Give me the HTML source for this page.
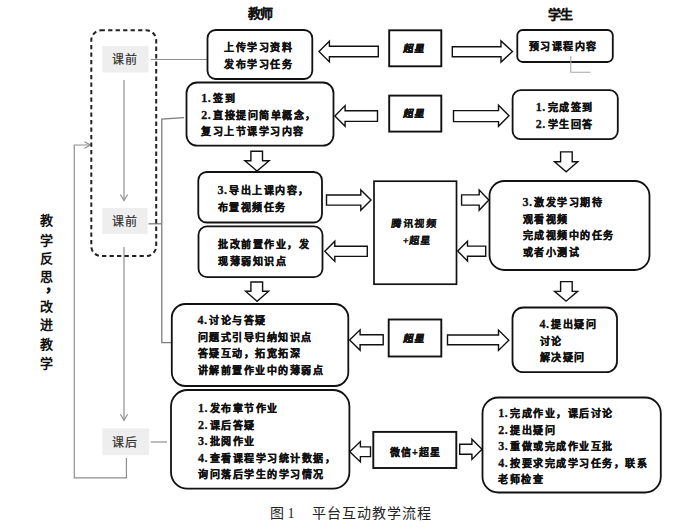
<!DOCTYPE html>
<html lang="zh-CN"><head><meta charset="utf-8"><style>
html,body{margin:0;padding:0;background:#fff;}
#c{position:relative;width:695px;height:529px;overflow:hidden;background:#fff;font-family:"Liberation Sans",sans-serif;}
svg{position:absolute;left:0;top:0;}
</style></head><body><div id="c">
<svg width="695" height="529" viewBox="0 0 695 529">
<polyline points="151,59.5 207,59.5" fill="none" stroke="#8f8f8f" stroke-width="1.2"/>
<polyline points="124,80 124,200.5" fill="none" stroke="#8f8f8f" stroke-width="1.2"/>
<polyline points="120.4,194.5 124,200.5 127.6,194.5" fill="none" stroke="#8f8f8f" stroke-width="1.2"/>
<polyline points="184,117.6 161.8,119.2 161.8,342.7 171.5,342.7" fill="none" stroke="#7c7c7c" stroke-width="1.3"/>
<polyline points="148.5,223.8 161.8,223.8" fill="none" stroke="#7c7c7c" stroke-width="1.3"/>
<polyline points="124,247 124,420.3" fill="none" stroke="#8f8f8f" stroke-width="1.2"/>
<polyline points="120.4,414.3 124,420.3 127.6,414.3" fill="none" stroke="#8f8f8f" stroke-width="1.2"/>
<polyline points="150.8,442 167,442" fill="none" stroke="#8f8f8f" stroke-width="1.2"/>
<polyline points="126.4,458 126.4,477.9 74.3,477.9 74.3,145 90.5,145" fill="none" stroke="#8f8f8f" stroke-width="1.2"/>
<polyline points="84.5,141.7 90.5,145 84.5,148.3" fill="none" stroke="#8f8f8f" stroke-width="1.2"/>
<rect x="91.3" y="30.3" width="64.9" height="225.8" rx="10" ry="10" fill="none" stroke="#222" stroke-width="2" stroke-dasharray="4.3,3.2" stroke-dashoffset="0.7"/>
<rect x="102.5" y="46" width="46.0" height="26.5" fill="#eeeeee"/>
<rect x="102.5" y="208" width="45.1" height="26" fill="#eeeeee"/>
<rect x="102.5" y="428.5" width="46.6" height="26.7" fill="#eeeeee"/>
<rect x="207.5" y="30" width="104.8" height="49" rx="8.17" ry="8.17" fill="#fff" stroke="#111" stroke-width="1.8"/>
<rect x="186.5" y="82.5" width="147.0" height="63.1" rx="10.52" ry="10.52" fill="#fff" stroke="#111" stroke-width="1.8"/>
<rect x="198.3" y="172" width="123.7" height="50.5" rx="8.42" ry="8.42" fill="#fff" stroke="#111" stroke-width="1.8"/>
<rect x="198.5" y="226.3" width="124.0" height="50.9" rx="8.48" ry="8.48" fill="#fff" stroke="#111" stroke-width="1.8"/>
<rect x="171.8" y="304" width="176.5" height="82" rx="13.67" ry="13.67" fill="#fff" stroke="#111" stroke-width="1.8"/>
<rect x="171" y="390" width="178.4" height="98.7" rx="16.45" ry="16.45" fill="#fff" stroke="#111" stroke-width="1.8"/>
<rect x="517.3" y="30" width="95.5" height="32" rx="5.33" ry="5.33" fill="#fff" stroke="#111" stroke-width="1.8"/>
<polyline points="570.8,56 570.8,72.2 590.5,72.2" fill="none" stroke="#a8a8a8" stroke-width="1.1"/>
<rect x="512.6" y="90.2" width="105.2" height="49.0" rx="8.17" ry="8.17" fill="#fff" stroke="#111" stroke-width="1.8"/>
<rect x="489.5" y="181" width="160.0" height="89" rx="14.83" ry="14.83" fill="#fff" stroke="#111" stroke-width="1.8"/>
<rect x="512.5" y="307.5" width="104.5" height="64.7" rx="10.78" ry="10.78" fill="#fff" stroke="#111" stroke-width="1.8"/>
<rect x="482.5" y="397.5" width="178.3" height="95.0" rx="15.83" ry="15.83" fill="#fff" stroke="#111" stroke-width="1.8"/>
<rect x="389.2" y="30.3" width="52.1" height="36.0" fill="#fff" stroke="#111" stroke-width="1.9"/>
<rect x="389.2" y="95.6" width="52.1" height="36.0" fill="#fff" stroke="#111" stroke-width="1.9"/>
<rect x="374" y="181.2" width="82.5" height="103.0" fill="#fff" stroke="#111" stroke-width="1.7"/>
<rect x="388.7" y="319.5" width="52.6" height="37.0" fill="#fff" stroke="#111" stroke-width="1.9"/>
<rect x="373.3" y="431.9" width="83.0" height="36.1" fill="#fff" stroke="#111" stroke-width="1.9"/>
<polygon points="378.3,46.3 329.4,46.3 329.4,41.3 319,51.6 329.4,61.9 329.4,56.8 378.3,56.8" fill="#fff" stroke="#111" stroke-width="1.4" stroke-linejoin="miter"/>
<polygon points="452.3,46.7 501,46.7 501,40.9 512.5,51.5 501,62.1 501,56.8 452.3,56.8" fill="#fff" stroke="#111" stroke-width="1.4" stroke-linejoin="miter"/>
<polygon points="377.5,110.7 345.1,110.7 345.1,105.6 334.9,115.9 345.1,126.2 345.1,121.4 377.5,121.4" fill="#fff" stroke="#111" stroke-width="1.4" stroke-linejoin="miter"/>
<polygon points="453.5,110.6 498.5,110.6 498.5,105.3 509,115.75 498.5,126.2 498.5,121.6 453.5,121.6" fill="#fff" stroke="#111" stroke-width="1.4" stroke-linejoin="miter"/>
<polygon points="250.9,151.3 262.5,151.3 262.5,160.8 269.1,160.8 257.0,171 244.9,160.8 250.9,160.8" fill="#fff" stroke="#111" stroke-width="1.4" stroke-linejoin="miter"/>
<polygon points="560.6,151.9 572.2,151.9 572.2,161.7 577.8,161.7 566.15,171.9 554.5,161.7 560.6,161.7" fill="#fff" stroke="#111" stroke-width="1.4" stroke-linejoin="miter"/>
<polygon points="326.5,195 360.8,195 360.8,189.9 371,200.05 360.8,210.2 360.8,205.1 326.5,205.1" fill="#fff" stroke="#111" stroke-width="1.4" stroke-linejoin="miter"/>
<polygon points="367.3,246.3 334.8,246.3 334.8,241.2 324.8,251.3 334.8,261.4 334.8,256.4 367.3,256.4" fill="#fff" stroke="#111" stroke-width="1.4" stroke-linejoin="miter"/>
<polygon points="461.6,194.9 479.2,194.9 479.2,190 488.8,200.1 479.2,210.2 479.2,205.1 461.6,205.1" fill="#fff" stroke="#111" stroke-width="1.4" stroke-linejoin="miter"/>
<polygon points="485.7,246.1 467.5,246.1 467.5,241.2 457.7,251.1 467.5,261 467.5,256.2 485.7,256.2" fill="#fff" stroke="#111" stroke-width="1.4" stroke-linejoin="miter"/>
<polygon points="250.9,282 262.6,282 262.6,291.2 268.6,291.2 257.1,301.3 245.6,291.2 250.9,291.2" fill="#fff" stroke="#111" stroke-width="1.4" stroke-linejoin="miter"/>
<polygon points="560.6,281.6 572.2,281.6 572.2,291.4 577.6,291.4 566.1,301.2 554.6,291.4 560.6,291.4" fill="#fff" stroke="#111" stroke-width="1.4" stroke-linejoin="miter"/>
<polygon points="383.2,334.8 360.1,334.8 360.1,329.8 349.6,340.05 360.1,350.3 360.1,344.7 383.2,344.7" fill="#fff" stroke="#111" stroke-width="1.4" stroke-linejoin="miter"/>
<polygon points="447.5,335 498.5,335 498.5,330.1 508.8,340.25 498.5,350.4 498.5,344.7 447.5,344.7" fill="#fff" stroke="#111" stroke-width="1.4" stroke-linejoin="miter"/>
<polygon points="370.5,446.9 360.4,446.9 360.4,441.6 349.8,451.75 360.4,461.9 360.4,456.6 370.5,456.6" fill="#fff" stroke="#111" stroke-width="1.4" stroke-linejoin="miter"/>
<polygon points="459.7,444.3 471.9,444.3 471.9,439.3 482,449.35 471.9,459.4 471.9,454.3 459.7,454.3" fill="#fff" stroke="#111" stroke-width="1.4" stroke-linejoin="miter"/>
<text x="111.8" y="64.25" font-size="12" font-weight="normal" fill="#2a2a2a" text-anchor="start" font-family="'Liberation Sans', sans-serif" letter-spacing="1.4" stroke="#2a2a2a" stroke-width="0.15">课前</text>
<text x="111.8" y="226.0" font-size="12" font-weight="normal" fill="#2a2a2a" text-anchor="start" font-family="'Liberation Sans', sans-serif" letter-spacing="1.4" stroke="#2a2a2a" stroke-width="0.15">课前</text>
<text x="111.8" y="446.85" font-size="12" font-weight="normal" fill="#2a2a2a" text-anchor="start" font-family="'Liberation Sans', sans-serif" letter-spacing="1.4" stroke="#2a2a2a" stroke-width="0.15">课后</text>
<text x="247.8" y="18.4" font-size="13" font-weight="bold" fill="#111" text-anchor="start" font-family="'Liberation Sans', sans-serif" letter-spacing="-1.2" stroke="#111" stroke-width="0.1">教师</text>
<text x="548.3" y="18.6" font-size="13" font-weight="bold" fill="#111" text-anchor="start" font-family="'Liberation Sans', sans-serif" letter-spacing="-1.2" stroke="#111" stroke-width="0.1">学生</text>
<text x="224.1" y="50.8" font-size="10" font-weight="bold" fill="#111" text-anchor="start" font-family="'Liberation Sans', sans-serif" letter-spacing="1.5" stroke="#111" stroke-width="0.3">上传学习资料</text>
<text x="224.1" y="68.0" font-size="10" font-weight="bold" fill="#111" text-anchor="start" font-family="'Liberation Sans', sans-serif" letter-spacing="1.5" stroke="#111" stroke-width="0.3">发布学习任务</text>
<text x="201.2" y="102.4" font-size="12" font-weight="bold" fill="#111" text-anchor="start" font-family="'Liberation Serif', sans-serif" letter-spacing="0.5" stroke="#111" stroke-width="0.3">1.</text>
<text x="213.0" y="102.4" font-size="10" font-weight="bold" fill="#111" text-anchor="start" font-family="'Liberation Sans', sans-serif" letter-spacing="1.5" stroke="#111" stroke-width="0.3">签到</text>
<text x="201.2" y="118.9" font-size="12" font-weight="bold" fill="#111" text-anchor="start" font-family="'Liberation Serif', sans-serif" letter-spacing="0.5" stroke="#111" stroke-width="0.3">2.</text>
<text x="213.0" y="118.9" font-size="10" font-weight="bold" fill="#111" text-anchor="start" font-family="'Liberation Sans', sans-serif" letter-spacing="1.5" stroke="#111" stroke-width="0.3">直接提问简单概念，</text>
<text x="201.2" y="135.4" font-size="10" font-weight="bold" fill="#111" text-anchor="start" font-family="'Liberation Sans', sans-serif" letter-spacing="1.5" stroke="#111" stroke-width="0.3">复习上节课学习内容</text>
<text x="217.6" y="193.9" font-size="12" font-weight="bold" fill="#111" text-anchor="start" font-family="'Liberation Serif', sans-serif" letter-spacing="0.5" stroke="#111" stroke-width="0.3">3.</text>
<text x="229.4" y="193.9" font-size="10" font-weight="bold" fill="#111" text-anchor="start" font-family="'Liberation Sans', sans-serif" letter-spacing="1.5" stroke="#111" stroke-width="0.3">导出上课内容，</text>
<text x="217.6" y="210.6" font-size="10" font-weight="bold" fill="#111" text-anchor="start" font-family="'Liberation Sans', sans-serif" letter-spacing="1.5" stroke="#111" stroke-width="0.3">布置视频任务</text>
<text x="218.3" y="248.2" font-size="10" font-weight="bold" fill="#111" text-anchor="start" font-family="'Liberation Sans', sans-serif" letter-spacing="1.5" stroke="#111" stroke-width="0.3">批改前置作业，发</text>
<text x="218.3" y="264.9" font-size="10" font-weight="bold" fill="#111" text-anchor="start" font-family="'Liberation Sans', sans-serif" letter-spacing="1.5" stroke="#111" stroke-width="0.3">现薄弱知识点</text>
<text x="197.5" y="324.2" font-size="12" font-weight="bold" fill="#111" text-anchor="start" font-family="'Liberation Serif', sans-serif" letter-spacing="0.5" stroke="#111" stroke-width="0.3">4.</text>
<text x="209.3" y="324.2" font-size="10" font-weight="bold" fill="#111" text-anchor="start" font-family="'Liberation Sans', sans-serif" letter-spacing="1.5" stroke="#111" stroke-width="0.3">讨论与答疑</text>
<text x="197.5" y="340.7" font-size="10" font-weight="bold" fill="#111" text-anchor="start" font-family="'Liberation Sans', sans-serif" letter-spacing="1.5" stroke="#111" stroke-width="0.3">问题式引导归纳知识点</text>
<text x="197.5" y="357.2" font-size="10" font-weight="bold" fill="#111" text-anchor="start" font-family="'Liberation Sans', sans-serif" letter-spacing="1.5" stroke="#111" stroke-width="0.3">答疑互动，拓宽拓深</text>
<text x="197.5" y="373.7" font-size="10" font-weight="bold" fill="#111" text-anchor="start" font-family="'Liberation Sans', sans-serif" letter-spacing="1.5" stroke="#111" stroke-width="0.3">讲解前置作业中的薄弱点</text>
<text x="198" y="412.3" font-size="12" font-weight="bold" fill="#111" text-anchor="start" font-family="'Liberation Serif', sans-serif" letter-spacing="0.5" stroke="#111" stroke-width="0.3">1.</text>
<text x="209.8" y="412.3" font-size="10" font-weight="bold" fill="#111" text-anchor="start" font-family="'Liberation Sans', sans-serif" letter-spacing="1.5" stroke="#111" stroke-width="0.3">发布章节作业</text>
<text x="198" y="428.8" font-size="12" font-weight="bold" fill="#111" text-anchor="start" font-family="'Liberation Serif', sans-serif" letter-spacing="0.5" stroke="#111" stroke-width="0.3">2.</text>
<text x="209.8" y="428.8" font-size="10" font-weight="bold" fill="#111" text-anchor="start" font-family="'Liberation Sans', sans-serif" letter-spacing="1.5" stroke="#111" stroke-width="0.3">课后答疑</text>
<text x="198" y="445.3" font-size="12" font-weight="bold" fill="#111" text-anchor="start" font-family="'Liberation Serif', sans-serif" letter-spacing="0.5" stroke="#111" stroke-width="0.3">3.</text>
<text x="209.8" y="445.3" font-size="10" font-weight="bold" fill="#111" text-anchor="start" font-family="'Liberation Sans', sans-serif" letter-spacing="1.5" stroke="#111" stroke-width="0.3">批阅作业</text>
<text x="198" y="461.8" font-size="12" font-weight="bold" fill="#111" text-anchor="start" font-family="'Liberation Serif', sans-serif" letter-spacing="0.5" stroke="#111" stroke-width="0.3">4.</text>
<text x="209.8" y="461.8" font-size="10" font-weight="bold" fill="#111" text-anchor="start" font-family="'Liberation Sans', sans-serif" letter-spacing="1.5" stroke="#111" stroke-width="0.3">查看课程学习统计数据，</text>
<text x="198" y="478.3" font-size="10" font-weight="bold" fill="#111" text-anchor="start" font-family="'Liberation Sans', sans-serif" letter-spacing="1.5" stroke="#111" stroke-width="0.3">询问落后学生的学习情况</text>
<text x="528.6" y="50.0" font-size="10" font-weight="bold" fill="#111" text-anchor="start" font-family="'Liberation Sans', sans-serif" letter-spacing="1.5" stroke="#111" stroke-width="0.3">预习课程内容</text>
<text x="535.8" y="111.2" font-size="12" font-weight="bold" fill="#111" text-anchor="start" font-family="'Liberation Serif', sans-serif" letter-spacing="0.5" stroke="#111" stroke-width="0.3">1.</text>
<text x="547.6" y="111.2" font-size="10" font-weight="bold" fill="#111" text-anchor="start" font-family="'Liberation Sans', sans-serif" letter-spacing="1.5" stroke="#111" stroke-width="0.3">完成签到</text>
<text x="535.8" y="127.6" font-size="12" font-weight="bold" fill="#111" text-anchor="start" font-family="'Liberation Serif', sans-serif" letter-spacing="0.5" stroke="#111" stroke-width="0.3">2.</text>
<text x="547.6" y="127.6" font-size="10" font-weight="bold" fill="#111" text-anchor="start" font-family="'Liberation Sans', sans-serif" letter-spacing="1.5" stroke="#111" stroke-width="0.3">学生回答</text>
<text x="522.6" y="206.1" font-size="12" font-weight="bold" fill="#111" text-anchor="start" font-family="'Liberation Serif', sans-serif" letter-spacing="0.5" stroke="#111" stroke-width="0.3">3.</text>
<text x="534.4" y="206.1" font-size="10" font-weight="bold" fill="#111" text-anchor="start" font-family="'Liberation Sans', sans-serif" letter-spacing="1.5" stroke="#111" stroke-width="0.3">激发学习期待</text>
<text x="522.6" y="222.6" font-size="10" font-weight="bold" fill="#111" text-anchor="start" font-family="'Liberation Sans', sans-serif" letter-spacing="1.5" stroke="#111" stroke-width="0.3">观看视频</text>
<text x="522.6" y="239.1" font-size="10" font-weight="bold" fill="#111" text-anchor="start" font-family="'Liberation Sans', sans-serif" letter-spacing="1.5" stroke="#111" stroke-width="0.3">完成视频中的任务</text>
<text x="522.6" y="255.6" font-size="10" font-weight="bold" fill="#111" text-anchor="start" font-family="'Liberation Sans', sans-serif" letter-spacing="1.5" stroke="#111" stroke-width="0.3">或者小测试</text>
<text x="539.5" y="328.2" font-size="12" font-weight="bold" fill="#111" text-anchor="start" font-family="'Liberation Serif', sans-serif" letter-spacing="0.5" stroke="#111" stroke-width="0.3">4.</text>
<text x="551.3" y="328.2" font-size="10" font-weight="bold" fill="#111" text-anchor="start" font-family="'Liberation Sans', sans-serif" letter-spacing="1.5" stroke="#111" stroke-width="0.3">提出疑问</text>
<text x="539.5" y="344.7" font-size="10" font-weight="bold" fill="#111" text-anchor="start" font-family="'Liberation Sans', sans-serif" letter-spacing="1.5" stroke="#111" stroke-width="0.3">讨论</text>
<text x="539.5" y="361.2" font-size="10" font-weight="bold" fill="#111" text-anchor="start" font-family="'Liberation Sans', sans-serif" letter-spacing="1.5" stroke="#111" stroke-width="0.3">解决疑问</text>
<text x="498.3" y="417.0" font-size="12" font-weight="bold" fill="#111" text-anchor="start" font-family="'Liberation Serif', sans-serif" letter-spacing="0.5" stroke="#111" stroke-width="0.3">1.</text>
<text x="510.1" y="417.0" font-size="10" font-weight="bold" fill="#111" text-anchor="start" font-family="'Liberation Sans', sans-serif" letter-spacing="1.5" stroke="#111" stroke-width="0.3">完成作业，课后讨论</text>
<text x="498.3" y="433.5" font-size="12" font-weight="bold" fill="#111" text-anchor="start" font-family="'Liberation Serif', sans-serif" letter-spacing="0.5" stroke="#111" stroke-width="0.3">2.</text>
<text x="510.1" y="433.5" font-size="10" font-weight="bold" fill="#111" text-anchor="start" font-family="'Liberation Sans', sans-serif" letter-spacing="1.5" stroke="#111" stroke-width="0.3">提出疑问</text>
<text x="498.3" y="450.0" font-size="12" font-weight="bold" fill="#111" text-anchor="start" font-family="'Liberation Serif', sans-serif" letter-spacing="0.5" stroke="#111" stroke-width="0.3">3.</text>
<text x="510.1" y="450.0" font-size="10" font-weight="bold" fill="#111" text-anchor="start" font-family="'Liberation Sans', sans-serif" letter-spacing="1.5" stroke="#111" stroke-width="0.3">重做或完成作业互批</text>
<text x="498.3" y="466.5" font-size="12" font-weight="bold" fill="#111" text-anchor="start" font-family="'Liberation Serif', sans-serif" letter-spacing="0.5" stroke="#111" stroke-width="0.3">4.</text>
<text x="510.1" y="466.5" font-size="10" font-weight="bold" fill="#111" text-anchor="start" font-family="'Liberation Sans', sans-serif" letter-spacing="1.5" stroke="#111" stroke-width="0.3">按要求完成学习任务，联系</text>
<text x="498.3" y="483.0" font-size="10" font-weight="bold" fill="#111" text-anchor="start" font-family="'Liberation Sans', sans-serif" letter-spacing="1.5" stroke="#111" stroke-width="0.3">老师检查</text>
<text transform="translate(391.2,226.8) skewX(-5)" x="0" y="0" font-size="10" font-weight="bold" fill="#111" text-anchor="start" font-family="'Liberation Sans', sans-serif" letter-spacing="1.5" stroke="#111" stroke-width="0.1">腾讯视频</text>
<text transform="translate(402.5,243.8) skewX(-6)" x="0" y="0" font-size="10" font-weight="bold" fill="#111" text-anchor="start" font-family="'Liberation Sans', sans-serif" letter-spacing="0.6" stroke="#111" stroke-width="0.1">+超星</text>
<text transform="translate(402.5,52.4) skewX(-10)" x="0" y="0" font-size="10" font-weight="bold" fill="#111" text-anchor="start" font-family="'Liberation Sans', sans-serif" letter-spacing="1.5" stroke="#111" stroke-width="0.3">超星</text>
<text transform="translate(402.5,117.4) skewX(-10)" x="0" y="0" font-size="10" font-weight="bold" fill="#111" text-anchor="start" font-family="'Liberation Sans', sans-serif" letter-spacing="1.5" stroke="#111" stroke-width="0.3">超星</text>
<text transform="translate(402.5,341.5) skewX(-10)" x="0" y="0" font-size="10" font-weight="bold" fill="#111" text-anchor="start" font-family="'Liberation Sans', sans-serif" letter-spacing="1.5" stroke="#111" stroke-width="0.3">超星</text>
<text x="389.5" y="455.6" font-size="10" font-weight="bold" fill="#111" text-anchor="start" font-family="'Liberation Sans', sans-serif" letter-spacing="1.2" stroke="#111" stroke-width="0.2">微信+超星</text>
<text x="40" y="225.4" font-size="13" font-weight="bold" fill="#111" text-anchor="start" font-family="'Liberation Sans', sans-serif" letter-spacing="0">教</text>
<text x="40" y="245" font-size="13" font-weight="bold" fill="#111" text-anchor="start" font-family="'Liberation Sans', sans-serif" letter-spacing="0">学</text>
<text x="40" y="263" font-size="13" font-weight="bold" fill="#111" text-anchor="start" font-family="'Liberation Sans', sans-serif" letter-spacing="0">反</text>
<text x="40" y="281" font-size="13" font-weight="bold" fill="#111" text-anchor="start" font-family="'Liberation Sans', sans-serif" letter-spacing="0">思</text>
<text x="40" y="310.8" font-size="13" font-weight="bold" fill="#111" text-anchor="start" font-family="'Liberation Sans', sans-serif" letter-spacing="0">改</text>
<text x="40" y="329.3" font-size="13" font-weight="bold" fill="#111" text-anchor="start" font-family="'Liberation Sans', sans-serif" letter-spacing="0">进</text>
<text x="40" y="349.1" font-size="13" font-weight="bold" fill="#111" text-anchor="start" font-family="'Liberation Sans', sans-serif" letter-spacing="0">教</text>
<text x="40" y="367.5" font-size="13" font-weight="bold" fill="#111" text-anchor="start" font-family="'Liberation Sans', sans-serif" letter-spacing="0">学</text>
<text x="45.3" y="290.5" font-size="15" font-weight="bold" fill="#111" text-anchor="start" font-family="'Liberation Sans', sans-serif" letter-spacing="0" stroke="#111" stroke-width="0.2">，</text>
<text x="270.3" y="517.6" font-size="14" font-weight="normal" fill="#222" text-anchor="start" font-family="'Liberation Serif', sans-serif" letter-spacing="0">图</text>
<text x="287.5" y="517.6" font-size="14" font-weight="normal" fill="#222" text-anchor="start" font-family="'Liberation Serif', sans-serif" letter-spacing="0">1</text>
<text x="311.7" y="517.6" font-size="14" font-weight="normal" fill="#222" text-anchor="start" font-family="'Liberation Serif', sans-serif" letter-spacing="1.05">平台互动教学流程</text>
</svg></div></body></html>
